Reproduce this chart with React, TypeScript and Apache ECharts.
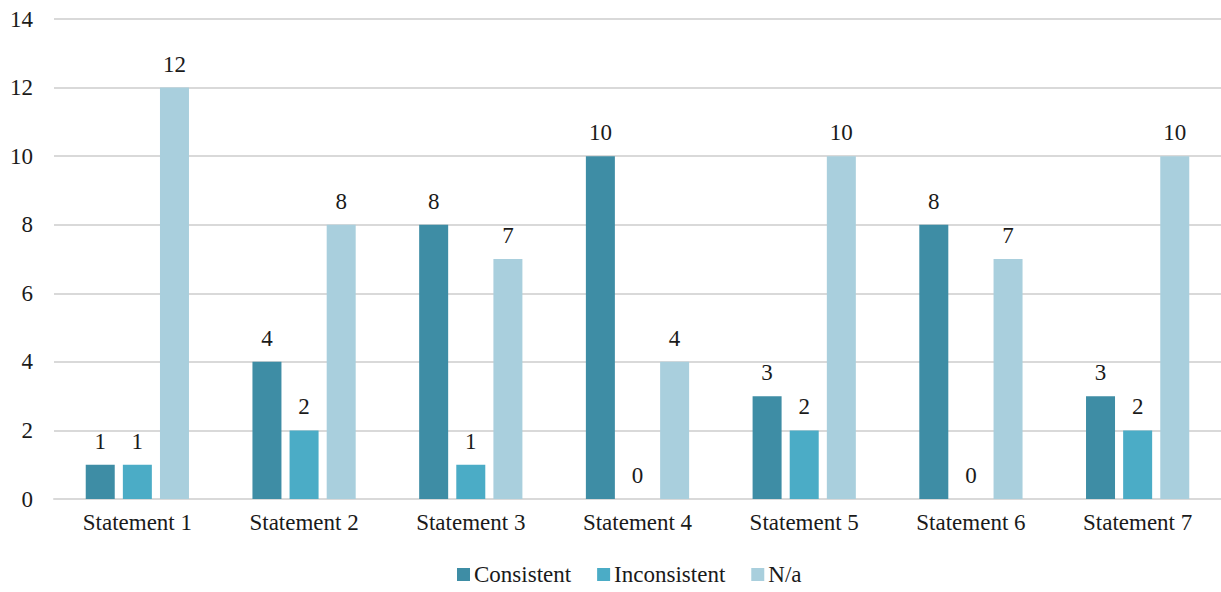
import React, { useEffect, useRef } from "react";
import * as echarts from "echarts";

const categories = [
  "Statement 1",
  "Statement 2",
  "Statement 3",
  "Statement 4",
  "Statement 5",
  "Statement 6",
  "Statement 7",
];
const consistent = [1, 4, 8, 10, 3, 8, 3];
const inconsistent = [1, 2, 1, 0, 2, 0, 2];
const notApplicable = [12, 8, 7, 4, 10, 7, 10];

const FONT = "Times New Roman, Liberation Serif, serif";
const TEXT = "#1a1a1a";
const SIZE = 23;

export default function App() {
  const ref = useRef<HTMLDivElement>(null);

  useEffect(() => {
    if (!ref.current) return;
    const chart = echarts.init(ref.current, undefined, { renderer: "svg" });
    const label = {
      show: true,
      position: "top" as const,
      distance: 12,
      color: TEXT,
      fontFamily: FONT,
      fontSize: SIZE,
    };
    const mk = (name: string, data: number[], color: string) => ({
      name,
      type: "bar" as const,
      data,
      barWidth: 29,
      barGap: "28%",
      itemStyle: { color },
      label,
    });
    chart.setOption({
      animation: false,
      textStyle: { fontFamily: FONT },
      grid: { left: 54, right: 0, top: 19, bottom: 93, containLabel: false },
      legend: {
        bottom: 1,
        left: 452,
        itemWidth: 13,
        itemHeight: 13,
        itemGap: 26,
        icon: "rect",
        textStyle: { fontFamily: FONT, fontSize: SIZE, color: TEXT, padding: [0, 0, 0, -1] },
        data: ["Consistent", "Inconsistent", "N/a"],
      },
      xAxis: {
        type: "category",
        data: categories,
        axisLine: { lineStyle: { color: "#d9d9d9", width: 2 } },
        axisTick: { show: false },
        axisLabel: { fontFamily: FONT, fontSize: SIZE, color: TEXT, margin: 12 },
      },
      yAxis: {
        type: "value",
        min: 0,
        max: 14,
        interval: 2,
        axisLine: { show: false },
        axisTick: { show: false },
        splitLine: { lineStyle: { color: "#d9d9d9", width: 2 } },
        axisLabel: { fontFamily: FONT, fontSize: SIZE, color: TEXT, margin: 21 },
      },
      series: [
        mk("Consistent", consistent, "#3e8da5"),
        mk("Inconsistent", inconsistent, "#4bacc6"),
        mk("N/a", notApplicable, "#a9cfdd"),
      ],
    });
    return () => chart.dispose();
  }, []);

  return (
    <div
      ref={ref}
      style={{ position: "absolute", left: 0, top: 0, width: 1221, height: 592, background: "#fff" }}
    />
  );
}
